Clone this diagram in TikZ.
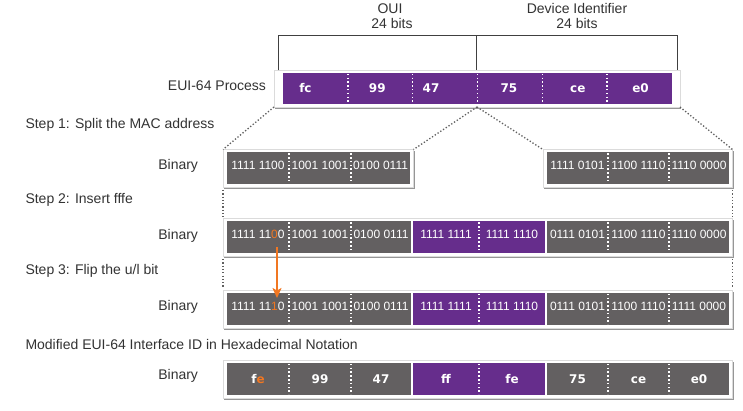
\documentclass[tikz,border=0pt]{standalone}
\usepackage{fontspec}
\setmainfont{Liberation Sans}
\newfontfamily\cellfont{DejaVu Sans}
\usetikzlibrary{arrows.meta,shadows}
\definecolor{cgray}{RGB}{99,96,97}
\definecolor{cpurple}{RGB}{102,45,140}
\definecolor{corange}{RGB}{241,119,34}
\definecolor{ctext}{RGB}{51,51,51}
\definecolor{cdot}{RGB}{95,95,95}
\begin{document}
\begin{tikzpicture}[x=1pt,y=-1pt,
  panel/.style={fill=white, draw=black!14, line width=0.4pt, inner sep=0pt, outer sep=0pt,
    drop shadow={shadow xshift=1.3pt, shadow yshift=-1.8pt, opacity=0.55, fill=black!75}},
  cellbox/.style={inner sep=0pt, outer sep=0pt, text=white},
  gcell/.style={cellbox, fill=cgray},
  pcell/.style={cellbox, fill=cpurple},
  bin/.style={font=\fontsize{12}{14}\selectfont, text height=8.6pt, text depth=6pt},
  hex/.style={font=\cellfont\bfseries\fontsize{12}{14}\selectfont, text height=8.7pt, text depth=0pt, text=white, inner sep=0pt},
  lab/.style={font=\fontsize{14}{16}\selectfont, text=ctext, inner sep=0pt, outer sep=0pt},
  divider/.style={draw=white, line width=1.5pt, dash pattern=on 1.5pt off 2.3pt, shorten <=0.8pt, shorten >=0.8pt},
  dotline/.style={draw=cdot, line width=1.3pt, dash pattern=on 1.3pt off 2pt},
  bracket/.style={draw=black!75, line width=0.9pt},
  fliparrow/.style={draw=corange, line width=2.2pt, -{Stealth[width=9pt,length=10pt,inset=2.5pt]}}
]
\fill[white] (0,0) rectangle (743,411);
\useasboundingbox (0,0) rectangle (743,411);

% ---------- header labels ----------
\node[lab, anchor=base] (oui) at (390,14) {OUI};
\node[lab, anchor=base] (ouibits) at (392,28.5) {24 bits};
\node[lab, anchor=base] (dev) at (577,14) {Device Identifier};
\node[lab, anchor=base] (devbits) at (577,28.5) {24 bits};

% ---------- panels ----------
\node[panel, minimum width=406pt, minimum height=36.5pt] (eui) at (477,88.75) {};
\node[panel, minimum width=190.5pt, minimum height=37.5pt] (r1a) at (318.25,168.25) {};
\node[panel, minimum width=189.5pt, minimum height=37.5pt] (r1b) at (637.75,168.25) {};
\node[panel, minimum width=509.5pt, minimum height=37.5pt] (r2) at (477.75,237.25) {};
\node[panel, minimum width=509.5pt, minimum height=38pt] (r3) at (477.75,309) {};
\node[panel, minimum width=509.5pt, minimum height=38pt] (r4) at (477.75,379) {};

% ---------- bracket ----------
\coordinate (brL) at (278,35.5);
\coordinate (brM) at (476,35.5);
\coordinate (brR) at (677,35.5);
\draw[bracket] (brL |- eui.north) -- (brL) -- (brR) -- (brR |- eui.north);
\draw[bracket] (brM) -- (brM |- eui.north);

% ---------- EUI-64 process bar ----------
\node[pcell, minimum width=64.83pt, minimum height=31pt, label={[hex,xshift=-10pt]center:fc}] (t1) at (315.42,88.5) {};
\node[pcell, minimum width=64.83pt, minimum height=31pt, label={[hex,xshift=-3pt]center:99}] (t2) at (380.25,88.5) {};
\node[pcell, minimum width=64.83pt, minimum height=31pt, label={[hex,xshift=-14pt]center:47}] (t3) at (445.08,88.5) {};
\node[pcell, minimum width=64.83pt, minimum height=31pt, label={[hex,xshift=-1pt]center:75}] (t4) at (509.92,88.5) {};
\node[pcell, minimum width=64.83pt, minimum height=31pt, label={[hex,xshift=3pt]center:ce}] (t5) at (574.75,88.5) {};
\node[pcell, minimum width=64.83pt, minimum height=31pt, label={[hex,xshift=1pt]center:e0}] (t6) at (639.58,88.5) {};
\foreach \c in {t1,t2,t3,t4,t5} \draw[divider] (\c.north east) -- (\c.south east);

% ---------- left labels ----------
\node[lab, anchor=base east] (euilab) at (266,90.7) {EUI-64 Process};
\node[lab, anchor=base west] (step1) at (25.5,128.3) {Step 1: Split the MAC address};
\node[lab, anchor=base west] (step2) at (25.5,204) {Step 2: Insert fffe};
\node[lab, anchor=base west] (step3) at (25.5,275) {Step 3: Flip the u/l bit};
\node[lab, anchor=base west] (step4) at (25.5,349) {Modified EUI-64 Interface ID in Hexadecimal Notation};
\node[lab, anchor=base east] (bin1) at (198,169.3) {Binary};
\node[lab, anchor=base east] (bin2) at (198,239.3) {Binary};
\node[lab, anchor=base east] (bin3) at (198,310) {Binary};
\node[lab, anchor=base east] (bin4) at (198,379.5) {Binary};

% ---------- row 1 ----------
\begin{scope}[every node/.append style={minimum height=31.5pt}]
\node[gcell, bin, minimum width=62pt] (a1) at (258,168.25) {1111 1100};
\node[gcell, bin, minimum width=62pt] (a2) at (320,168.25) {1001 1001};
\node[gcell, bin, minimum width=59pt] (a3) at (380.5,168.25) {0100 0111};
\node[gcell, bin, minimum width=61pt] (b1) at (577.5,168.25) {1111 0101};
\node[gcell, bin, minimum width=61pt] (b2) at (638.5,168.25) {1100 1110};
\node[gcell, bin, minimum width=60pt] (b3) at (699,168.25) {1110 0000};
% ---------- row 2 ----------
\node[gcell, bin, minimum width=62pt] (c1) at (258,237.25) {1111 11{\color{corange}0}0};
\node[gcell, bin, minimum width=62pt] (c2) at (320,237.25) {1001 1001};
\node[gcell, bin, minimum width=60pt] (c3) at (381,237.25) {0100 0111};
\node[pcell, bin, minimum width=66pt] (c4) at (446,237.25) {1111 1111};
\node[pcell, bin, minimum width=66pt] (c5) at (512,237.25) {1111 1110};
\node[gcell, bin, minimum width=61pt] (c6) at (577.5,237.25) {0111 0101};
\node[gcell, bin, minimum width=61pt] (c7) at (638.5,237.25) {1100 1110};
\node[gcell, bin, minimum width=60pt] (c8) at (699,237.25) {1110 0000};
\end{scope}
\begin{scope}[every node/.append style={minimum height=32pt}]
% ---------- row 3 ----------
\node[gcell, bin, minimum width=62pt] (d1) at (258,309) {1111 11{\color{corange}1}0};
\node[gcell, bin, minimum width=62pt] (d2) at (320,309) {1001 1001};
\node[gcell, bin, minimum width=60pt] (d3) at (381,309) {0100 0111};
\node[pcell, bin, minimum width=66pt] (d4) at (446,309) {1111 1111};
\node[pcell, bin, minimum width=66pt] (d5) at (512,309) {1111 1110};
\node[gcell, bin, minimum width=61pt] (d6) at (577.5,309) {0111 0101};
\node[gcell, bin, minimum width=61pt] (d7) at (638.5,309) {1100 1110};
\node[gcell, bin, minimum width=60pt] (d8) at (699,309) {1111 0000};
% ---------- row 4 ----------
\node[gcell, hex, minimum width=62pt] (e1) at (258,379) {f{\color{corange}e}};
\node[gcell, hex, minimum width=62pt] (e2) at (320,379) {99};
\node[gcell, hex, minimum width=60pt] (e3) at (381,379) {47};
\node[pcell, hex, minimum width=66pt] (e4) at (446,379) {ff};
\node[pcell, hex, minimum width=66pt] (e5) at (512,379) {fe};
\node[gcell, hex, minimum width=61pt] (e6) at (577.5,379) {75};
\node[gcell, hex, minimum width=61pt] (e7) at (638.5,379) {ce};
\node[gcell, hex, minimum width=60pt] (e8) at (699,379) {e0};
\end{scope}

% ---------- white dividers ----------
\foreach \c in {a1,a2,b1,b2,c1,c2,c4,c6,c7,d1,d2,d4,d6,d7,e1,e2,e4,e6,e7}
  \draw[divider] (\c.north east) -- (\c.south east);

% ---------- gray dotted connectors ----------
\draw[dotline] (eui.south west) -- (r1a.north west);
\draw[dotline] (eui.south) -- (r1a.north east);
\draw[dotline] (eui.south) -- (r1b.north west);
\draw[dotline] (eui.south east) -- (r1b.north east);
\draw[dotline, shorten <=3pt, shorten >=2pt] (r1a.south west) -- (r2.north west);
\draw[dotline, shorten <=3pt, shorten >=2pt] (r1b.south east) -- (r2.north east);
\draw[dotline, shorten <=3pt, shorten >=2pt] (r2.south west) -- (r3.north west);
\draw[dotline, shorten <=3pt, shorten >=2pt] (r2.south east) -- (r3.north east);

% ---------- flip arrow ----------
\coordinate (flipsrc) at (277,247);
\coordinate (flipdst) at (277,298);
\draw[fliparrow] (flipsrc) -- (flipdst);
\end{tikzpicture}
\end{document}
